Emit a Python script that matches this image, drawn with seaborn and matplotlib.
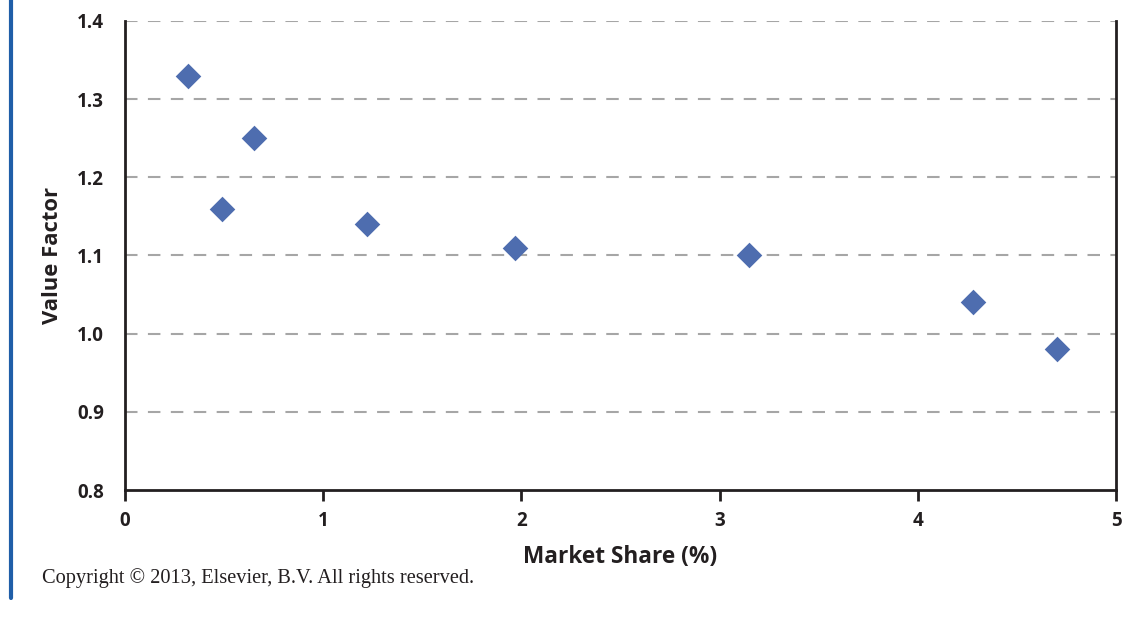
import pandas as pd
import seaborn as sns
import matplotlib.pyplot as plt
from matplotlib.lines import Line2D

market_share = [0.32, 0.49, 0.65, 1.22, 1.97, 3.15, 4.28, 4.70]
value_factor = [1.33, 1.16, 1.25, 1.14, 1.11, 1.10, 1.04, 0.98]
x_ticks = [0, 1, 2, 3, 4, 5]
y_ticks = [0.8, 0.9, 1.0, 1.1, 1.2, 1.3, 1.4]

df = pd.DataFrame({"share": market_share, "factor": value_factor})

sns.set_style("white")
plt.rcParams["font.family"] = ["Open Sans", "DejaVu Sans"]

fig = plt.figure(figsize=(11.45, 6.38), dpi=100)
ax = fig.add_axes([125 / 1145, 1 - 490 / 638, (1116 - 125) / 1145, (490 - 21) / 638])

sns.scatterplot(data=df, x="share", y="factor", marker="D", s=170,
                color="#4e6daf", linewidth=0, ax=ax, zorder=3)

ax.set_xlim(0, 5)
ax.set_ylim(0.8, 1.4)
ax.set_xticks(x_ticks)
ax.set_yticks(y_ticks)
ax.set_yticklabels([f"{v:.1f}" for v in y_ticks])

for v in y_ticks[1:]:
    ax.axhline(v, color="#a6a6a6", lw=1.5, ls=(0, (6, 5)), zorder=1)

ax.spines["top"].set_visible(False)
for side in ["left", "bottom", "right"]:
    ax.spines[side].set_color("#231f20")
    ax.spines[side].set_linewidth(2)

ax.tick_params(axis="x", bottom=True, direction="out", length=8, width=2, color="#231f20",
               pad=7, labelsize=13.5, labelcolor="#231f20")
ax.tick_params(axis="y", left=False, length=0, pad=15, labelsize=13.5, labelcolor="#231f20")
for lbl in ax.get_xticklabels() + ax.get_yticklabels():
    lbl.set_fontweight("bold")

ax.set_xlabel("Market Share (%)", fontsize=16.3, fontweight="bold", color="#231f20", labelpad=10)
ax.set_ylabel("Value Factor", fontsize=15.8, fontweight="bold", color="#231f20", labelpad=10)

fig.text(42 / 1145, 1 - 578 / 638, "Copyright \u00a9 2013, Elsevier, B.V. All rights reserved.",
         family=["Liberation Serif", "DejaVu Serif"], fontsize=14.7, color="#231f20", va="center")

fig.add_artist(Line2D([11 / 1145, 11 / 1145], [1 - 598 / 638, 1.0],
                      transform=fig.transFigure, color="#1f5ea8", lw=3))

fig.savefig("out.png", dpi=100)
